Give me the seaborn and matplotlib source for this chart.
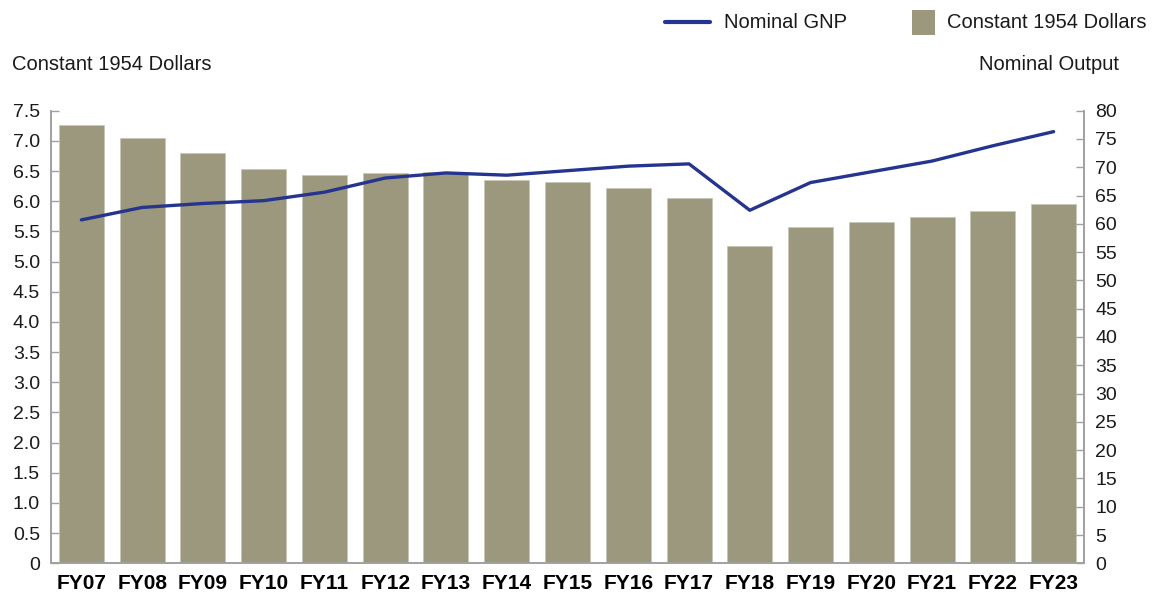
import matplotlib
matplotlib.use("Agg")
import matplotlib.pyplot as plt
from matplotlib.lines import Line2D
from matplotlib.patches import Rectangle
import pandas as pd
import seaborn as sns

# Fiscal years and the two series
years = ["FY07", "FY08", "FY09", "FY10", "FY11", "FY12", "FY13", "FY14", "FY15",
         "FY16", "FY17", "FY18", "FY19", "FY20", "FY21", "FY22", "FY23"]
constant_1954 = [7.27, 7.05, 6.80, 6.53, 6.44, 6.47, 6.48, 6.35, 6.32,
                 6.22, 6.06, 5.26, 5.57, 5.66, 5.74, 5.84, 5.96]
nominal_gnp = [60.7, 62.9, 63.6, 64.1, 65.6, 68.1, 69.0, 68.6, 69.4,
               70.2, 70.6, 62.4, 67.3, 69.2, 71.1, 73.8, 76.3]

left_ticks = [i * 0.5 for i in range(16)]
left_ticklabels = ["0"] + [f"{t:.1f}" for t in left_ticks[1:]]
right_ticks = list(range(0, 81, 5))

BAR_COLOR = "#9b987d"
LINE_COLOR = "#25358f"
SPINE_COLOR = "#a0a0a0"
TEXT_COLOR = "#1a1a1a"
TICK_SIZE = 14
XLABEL_SIZE = 15
TITLE_SIZE = 14.5

sns.set_theme(style="white")
plt.rcParams["font.family"] = ["Liberation Sans", "DejaVu Sans"]

df = pd.DataFrame({"year": years, "constant": constant_1954, "nominal": nominal_gnp})

fig = plt.figure(figsize=(11.63, 6.0), dpi=100)
ax = fig.add_axes([51 / 1163, 36.7 / 600, 1033 / 1163, 452.6 / 600])

sns.barplot(data=df, x="year", y="constant", color=BAR_COLOR, saturation=1,
            width=0.74, edgecolor="#c9c8b8", linewidth=0.6, ax=ax)
ax.set_xlim(-0.5, len(years) - 0.5)
ax.set_ylim(0, 7.5)
ax.set_yticks(left_ticks)
ax.set_yticklabels(left_ticklabels)
ax.set_xlabel("")
ax.set_ylabel("")

ax2 = ax.twinx()
sns.lineplot(x=list(range(len(years))), y=nominal_gnp, color=LINE_COLOR,
             linewidth=2.4, ax=ax2)
ax2.set_ylim(0, 80)
ax2.set_yticks(right_ticks)
ax2.set_xlim(-0.5, len(years) - 0.5)

for a in (ax, ax2):
    a.spines["top"].set_visible(False)
    for side in ("left", "right", "bottom"):
        a.spines[side].set_color(SPINE_COLOR)
        a.spines[side].set_linewidth(1.2)
    a.grid(False)

ax.tick_params(axis="y", direction="in", length=6, width=1.0, color=SPINE_COLOR,
               labelsize=TICK_SIZE, labelcolor=TEXT_COLOR, pad=8, left=True)
ax.tick_params(axis="x", length=0, labelsize=XLABEL_SIZE, labelcolor="#000000", pad=8)
for lbl in ax.get_xticklabels():
    lbl.set_fontweight("bold")
ax2.tick_params(axis="y", direction="in", length=6, width=1.0, color=SPINE_COLOR,
                labelsize=TICK_SIZE, labelcolor=TEXT_COLOR, pad=8, right=True)

# Axis titles
fig.text(12 / 1163, 1 - 64 / 600, "Constant 1954 Dollars", fontsize=TITLE_SIZE,
         color=TEXT_COLOR, ha="left", va="center")
fig.text(1119 / 1163, 1 - 64 / 600, "Nominal Output", fontsize=TITLE_SIZE,
         color=TEXT_COLOR, ha="right", va="center")

# Legend
ly = 1 - 22 / 600
fig.add_artist(Line2D([665 / 1163, 710 / 1163], [ly, ly], color=LINE_COLOR,
                      linewidth=3, transform=fig.transFigure))
fig.text(724 / 1163, ly, "Nominal GNP", fontsize=TITLE_SIZE, color=TEXT_COLOR,
         ha="left", va="center")
fig.add_artist(Rectangle((912 / 1163, 1 - 35 / 600), 23 / 1163, 25 / 600,
                         facecolor=BAR_COLOR, edgecolor="none",
                         transform=fig.transFigure))
fig.text(947 / 1163, ly, "Constant 1954 Dollars", fontsize=TITLE_SIZE,
         color=TEXT_COLOR, ha="left", va="center")

fig.savefig("out.png", dpi=100, facecolor="white")
